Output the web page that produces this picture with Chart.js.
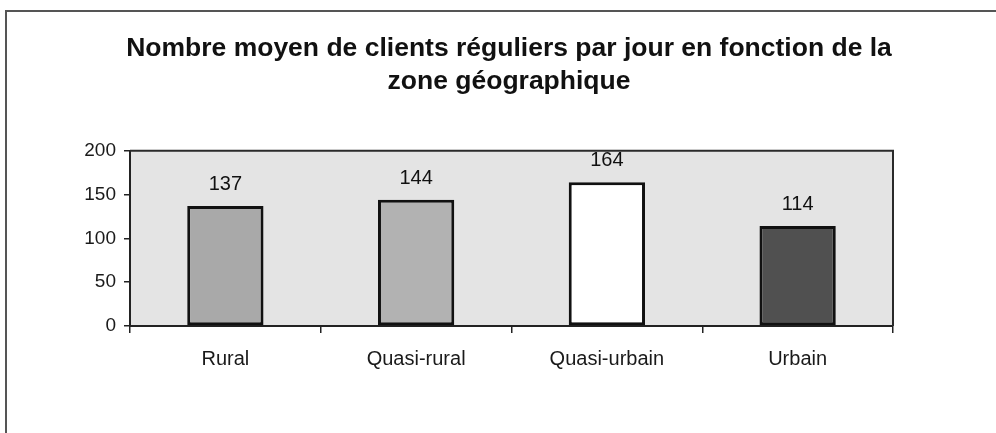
<!DOCTYPE html>
<html>
<head>
<meta charset="utf-8">
<script src="https://cdn.jsdelivr.net/npm/chart.js@4/dist/chart.umd.min.js"></script>
<style>
  html, body { margin: 0; padding: 0; background: #fff; }
  #wrap { width: 996px; height: 433px; }
</style>
</head>
<body>
<div id="wrap"><canvas id="c" width="996" height="433"></canvas></div>
<script>
const titleLines = ["Nombre moyen de clients réguliers par jour en fonction de la", "zone géographique"];
const categories = ["Rural", "Quasi-rural", "Quasi-urbain", "Urbain"];
const values = [137, 144, 164, 114];
const barColors = ["#a9a9a9", "#b2b2b2", "#ffffff", "#505050"];
const yTicks = [0, 50, 100, 150, 200];

const frameAndBg = {
  id: 'frameAndBg',
  beforeDraw(chart) {
    const ctx = chart.ctx, a = chart.chartArea;
    ctx.save();
    ctx.fillStyle = '#ffffff';
    ctx.fillRect(0, 0, chart.width, chart.height);
    ctx.strokeStyle = '#555555';
    ctx.lineWidth = 2;
    ctx.beginPath();
    ctx.moveTo(6, chart.height);
    ctx.lineTo(6, 11);
    ctx.lineTo(chart.width, 11);
    ctx.stroke();
    ctx.fillStyle = '#e4e4e4';
    ctx.fillRect(a.left, a.top, a.right - a.left, a.bottom - a.top);
    ctx.restore();
  },
  afterDraw(chart) {
    const ctx = chart.ctx, a = chart.chartArea;
    ctx.save();
    ctx.strokeStyle = '#2a2a2a';
    ctx.lineWidth = 2;
    ctx.beginPath();
    ctx.moveTo(a.left, a.top);
    ctx.lineTo(a.right, a.top);
    ctx.lineTo(a.right, a.bottom);
    ctx.stroke();
    ctx.restore();
  }
};

const valueLabels = {
  id: 'valueLabels',
  afterDatasetsDraw(chart) {
    const ctx = chart.ctx;
    const meta = chart.getDatasetMeta(0);
    ctx.save();
    ctx.font = '20px "Liberation Sans", Arial, sans-serif';
    ctx.fillStyle = '#111111';
    ctx.textAlign = 'center';
    ctx.textBaseline = 'alphabetic';
    meta.data.forEach((bar, i) => {
      ctx.fillText(String(values[i]), bar.x, bar.y - 16);
    });
    ctx.restore();
  }
};

new Chart(document.getElementById('c'), {
  type: 'bar',
  data: {
    labels: categories,
    datasets: [{
      data: values,
      backgroundColor: barColors,
      borderColor: '#111111',
      borderWidth: 3,
      borderSkipped: false,
      categoryPercentage: 1.0,
      barPercentage: 0.4,
      yAxisID: 'y'
    }]
  },
  options: {
    responsive: false,
    animation: false,
    devicePixelRatio: 1,
    layout: { padding: { left: 22, right: 0, top: 0, bottom: 0 } },
    plugins: {
      legend: { display: false },
      tooltip: { enabled: false },
      title: {
        display: true,
        text: titleLines,
        color: '#111111',
        font: { family: '"Liberation Sans", Arial, sans-serif', size: 26.5, weight: 'bold', lineHeight: 1.22 },
        padding: { top: 33, bottom: 53 }
      }
    },
    scales: {
      x: {
        grid: { display: true, drawOnChartArea: false, drawTicks: true, tickLength: 7, color: '#222222', lineWidth: 1.5, offset: true },
        border: { display: true, color: '#222222', width: 2 },
        ticks: { color: '#1a1a1a', padding: 14, font: { family: '"Liberation Sans", Arial, sans-serif', size: 20 } },
        afterFit(s) { s.height = 107; }
      },
      y: {
        min: 0, max: 200,
        afterBuildTicks(s) { s.ticks = yTicks.map(v => ({ value: v })); },
        grid: { display: true, drawOnChartArea: false, drawTicks: true, tickLength: 6, color: '#222222', lineWidth: 1.5 },
        border: { display: true, color: '#222222', width: 2 },
        ticks: { color: '#1a1a1a', padding: 8, font: { family: '"Liberation Sans", Arial, sans-serif', size: 19 } },
        afterFit(s) { s.width = 108; }
      },
      y2: {
        position: 'right',
        display: true,
        grid: { display: false, drawTicks: false },
        border: { display: false },
        ticks: { display: false },
        afterFit(s) { s.width = 103; }
      }
    }
  },
  plugins: [frameAndBg, valueLabels]
});
</script>
</body>
</html>
